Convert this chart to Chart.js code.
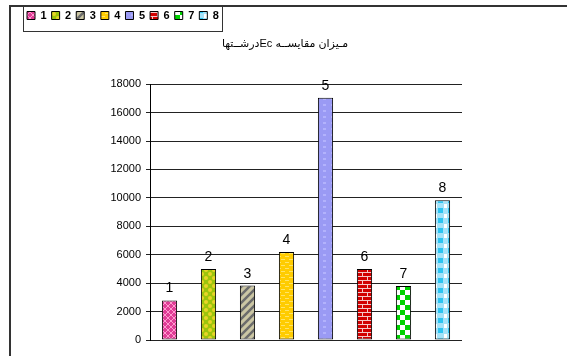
<!DOCTYPE html>
<html>
<head>
<meta charset="utf-8">
<script src="https://cdn.jsdelivr.net/npm/chart.js@4/dist/chart.umd.min.js"></script>
<style>
  html, body { margin: 0; padding: 0; background: #fff; }
  #wrap { width: 567px; height: 356px; }
</style>
</head>
<body>
<div id="wrap"><canvas id="c" width="567" height="356"></canvas></div>
<script>
// Category names (also used as bar captions and legend entries)
const categories = ['1', '2', '3', '4', '5', '6', '7', '8'];
// Ec values per category
const ecValues = [2780, 5000, 3830, 6200, 17050, 5000, 3800, 9830];
// Y axis range
const yMin = 0;
const yMax = 18000;
const yStep = 2000;
// chart title (right-to-left text)
const chartTitle = 'درشــتها' + 'Ec' + ' ' + 'مـیزان' + ' ' + 'مقایســه';

// Small repeating fills for the bars
function makePattern(w, h, paint) {
  const c = document.createElement('canvas');
  c.width = w; c.height = h;
  const g = c.getContext('2d');
  paint(g, w, h);
  return g.createPattern(c, 'repeat');
}

const fills = [
  // pink lattice
  makePattern(6, 6, (g, w, h) => {
    g.fillStyle = '#e03c96'; g.fillRect(0, 0, w, h);
    g.strokeStyle = '#ff9ad0'; g.lineWidth = 1;
    g.beginPath(); g.moveTo(0, 0); g.lineTo(6, 6); g.moveTo(6, 0); g.lineTo(0, 6); g.stroke();
  }),
  // yellow-green with dots
  makePattern(8, 8, (g, w, h) => {
    g.fillStyle = '#9cc40c'; g.fillRect(0, 0, w, h);
    g.fillStyle = '#e8d428';
    g.beginPath(); g.arc(2, 2, 2, 0, Math.PI * 2); g.fill();
    g.beginPath(); g.arc(6, 6, 2, 0, Math.PI * 2); g.fill();
  }),
  // grey / khaki diagonal stripes
  makePattern(8, 8, (g, w, h) => {
    g.fillStyle = '#cbc6a4'; g.fillRect(0, 0, w, h);
    g.strokeStyle = '#6c6c6c'; g.lineWidth = 2.5;
    g.beginPath();
    g.moveTo(-4, 4); g.lineTo(4, -4);
    g.moveTo(0, 8); g.lineTo(8, 0);
    g.moveTo(4, 12); g.lineTo(12, 4);
    g.stroke();
  }),
  // gold with light dashes
  makePattern(8, 6, (g, w, h) => {
    g.fillStyle = '#ffcc00'; g.fillRect(0, 0, w, h);
    g.fillStyle = '#ffe466';
    g.fillRect(1, 1, 4, 1); g.fillRect(5, 4, 3, 1); g.fillRect(0, 4, 1, 1);
  }),
  // lavender with soft marks
  makePattern(8, 6, (g, w, h) => {
    g.fillStyle = '#9a9af4'; g.fillRect(0, 0, w, h);
    g.fillStyle = '#b2b2fc';
    g.fillRect(3, 2, 3, 2);
  }),
  // red bricks
  makePattern(10, 8, (g, w, h) => {
    g.fillStyle = '#d20000'; g.fillRect(0, 0, w, h);
    g.fillStyle = '#f4c8c8';
    g.fillRect(0, 0, w, 1); g.fillRect(0, 4, w, 1);
    g.fillRect(2, 0, 1, 4); g.fillRect(7, 4, 1, 4);
  }),
  // green / white checks
  makePattern(10, 10, (g, w, h) => {
    g.fillStyle = '#ffffff'; g.fillRect(0, 0, w, h);
    g.fillStyle = '#00d200';
    g.fillRect(0, 0, 5, 5); g.fillRect(5, 5, 5, 5);
  }),
  // cyan plaid
  makePattern(10, 10, (g, w, h) => {
    g.fillStyle = '#2cc4f2'; g.fillRect(0, 0, w, h);
    g.fillStyle = '#a4e2f8';
    g.fillRect(3, 0, 5, h); g.fillRect(0, 3, w, 5);
    g.fillStyle = '#ffffff';
    g.fillRect(4, 4, 3, 4);
  })
];

const FONT = 'Arial, "Liberation Sans", "DejaVu Sans", sans-serif';

// Outer frame lines, legend box and captions above the bars
const decorations = {
  id: 'decorations',
  afterDatasetsDraw(chart) {
    const ctx = chart.ctx;
    const meta = chart.getDatasetMeta(0);
    ctx.save();
    ctx.fillStyle = '#000';
    ctx.font = '14px ' + FONT;
    ctx.textAlign = 'center';
    ctx.textBaseline = 'alphabetic';
    meta.data.forEach((bar, i) => {
      ctx.fillText(categories[i], bar.x, bar.y - 8);
    });
    ctx.restore();
  },
  afterDraw(chart) {
    const ctx = chart.ctx;
    ctx.save();
    // outer frame (top and left edges)
    ctx.strokeStyle = '#333';
    ctx.lineWidth = 2;
    ctx.beginPath();
    ctx.moveTo(9, 6); ctx.lineTo(chart.width, 6);
    ctx.moveTo(10, 5); ctx.lineTo(10, chart.height);
    ctx.stroke();
    // legend box
    const lg = chart.legend;
    const hb = lg.legendHitBoxes;
    if (hb && hb.length) {
      const first = hb[0], last = hb[hb.length - 1];
      const x1 = Math.round(first.left - 4) + 0.5;
      const x2 = Math.round(last.left + last.width + 3) + 0.5;
      const y1 = Math.round(lg.top) + 0.5;
      const y2 = Math.round(lg.bottom) + 0.5;
      ctx.lineWidth = 1;
      ctx.strokeStyle = '#333';
      ctx.strokeRect(x1, y1, x2 - x1, y2 - y1);
    }
    ctx.restore();
  }
};

new Chart(document.getElementById('c'), {
  type: 'bar',
  data: {
    labels: categories,
    datasets: [{
      data: ecValues,
      backgroundColor: fills,
      borderColor: '#000',
      borderWidth: 1,
      borderSkipped: false,
      categoryPercentage: 1,
      barPercentage: 0.39
    }]
  },
  options: {
    responsive: false,
    animation: false,
    devicePixelRatio: 1,
    layout: { padding: { left: 22, right: 19, top: 5, bottom: 16 } },
    plugins: {
      tooltip: { enabled: false },
      legend: {
        display: true,
        position: 'top',
        align: 'start',
        weight: 3000,
        labels: {
          boxWidth: 8,
          boxHeight: 8,
          padding: 5,
          color: '#000',
          font: { family: FONT, size: 11, weight: 'bold' },
          generateLabels: () => categories.map((t, i) => ({
            text: t,
            fillStyle: fills[i],
            strokeStyle: '#000',
            lineWidth: 1,
            hidden: false,
            index: i,
            datasetIndex: 0
          }))
        },
        onClick: () => {}
      },
      title: {
        display: true,
        text: chartTitle,
        color: '#000',
        weight: 500,
        font: { family: FONT, size: 11, weight: 'normal' },
        padding: { top: 6, bottom: 34 }
      }
    },
    scales: {
      x: {
        display: false,
        grid: { display: false }
      },
      y: {
        position: 'left',
        min: yMin,
        max: yMax,
        ticks: {
          stepSize: yStep,
          color: '#000',
          padding: 5,
          font: { family: FONT, size: 11 },
          callback: (v) => String(v)
        },
        grid: {
          color: '#222',
          lineWidth: 1,
          tickLength: 4,
          drawTicks: true
        },
        border: { display: true, color: '#000', width: 1 },
        afterFit(scale) { scale.width = 150 - 22; }
      },
      yRight: {
        position: 'right',
        display: true,
        min: yMin,
        max: yMax,
        ticks: { display: false },
        grid: { display: false, drawTicks: false },
        border: { display: false },
        afterFit(scale) { scale.width = 567 - 19 - 462; }
      }
    }
  },
  plugins: [decorations]
});
</script>
</body>
</html>
